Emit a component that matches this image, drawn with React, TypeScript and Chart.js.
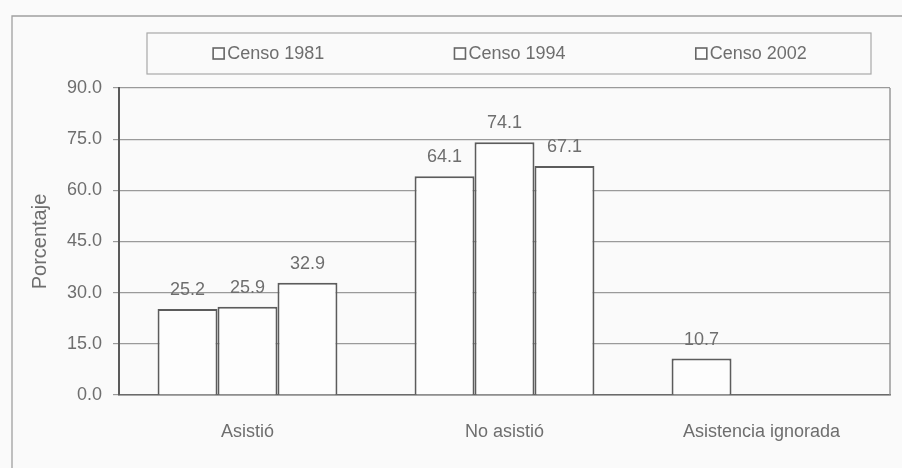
import React, { useEffect, useRef } from "react";
import { Chart, registerables } from "chart.js";

Chart.register(...registerables);

const categories = ["Asistió", "No asistió", "Asistencia ignorada"];
const seriesLabels = ["Censo 1981", "Censo 1994", "Censo 2002"];
const censo1981 = [25.2, 64.1, 10.7];
const censo1994: (number | null)[] = [25.9, 74.1, null];
const censo2002: (number | null)[] = [32.9, 67.1, null];
const yTicks = [0, 15, 30, 45, 60, 75, 90];

const TEXT = "#6e6e6e";
const FONT = "Arial, 'Liberation Sans', sans-serif";

const framePlugin = {
  id: "frame",
  beforeDraw(chart: any) {
    const ctx = chart.ctx;
    ctx.save();
    ctx.fillStyle = "#fafafa";
    ctx.fillRect(0, 0, chart.width, chart.height);
    ctx.strokeStyle = "#a0a0a0";
    ctx.lineWidth = 1.3;
    ctx.beginPath();
    ctx.moveTo(12, chart.height);
    ctx.lineTo(12, 16);
    ctx.lineTo(chart.width, 16);
    ctx.stroke();
    // legend box
    const lx = 147, ly = 33, lw = 724, lh = 41;
    ctx.strokeStyle = "#a8a8a8";
    ctx.lineWidth = 1.2;
    ctx.strokeRect(lx, ly, lw, lh);
    const datasets = chart.data.datasets;
    const slot = lw / datasets.length;
    ctx.font = `18px ${FONT}`;
    ctx.textBaseline = "middle";
    ctx.textAlign = "left";
    datasets.forEach((ds: any, i: number) => {
      const tw = ctx.measureText(ds.label).width;
      const itemW = 11 + 3 + tw;
      const cx = lx + slot * (i + 0.5) + 1;
      const x0 = cx - itemW / 2;
      const cy = ly + lh / 2;
      ctx.fillStyle = "#fdfdfd";
      ctx.fillRect(x0, cy - 5.5, 11, 11);
      ctx.strokeStyle = "#666";
      ctx.lineWidth = 1.6;
      ctx.strokeRect(x0, cy - 5.5, 11, 11);
      ctx.fillStyle = TEXT;
      ctx.fillText(ds.label, x0 + 14, cy + 1);
    });
    ctx.restore();
  },
  afterDatasetsDraw(chart: any) {
    const ctx = chart.ctx;
    const area = chart.chartArea;
    ctx.save();
    ctx.strokeStyle = "#8a8a8a";
    ctx.lineWidth = 1.3;
    ctx.beginPath();
    ctx.moveTo(area.right, area.top);
    ctx.lineTo(area.right, area.bottom);
    ctx.stroke();
    ctx.font = `18px ${FONT}`;
    ctx.fillStyle = TEXT;
    ctx.textAlign = "center";
    ctx.textBaseline = "alphabetic";
    chart.data.datasets.forEach((ds: any, di: number) => {
      const meta = chart.getDatasetMeta(di);
      meta.data.forEach((bar: any, i: number) => {
        const v = ds.data[i];
        if (v === null || v === undefined) return;
        ctx.fillText(v.toFixed(1), bar.x, bar.y - 14);
      });
    });
    ctx.restore();
  },
};

export default function App() {
  const ref = useRef<HTMLCanvasElement | null>(null);
  useEffect(() => {
    if (!ref.current) return;
    const barStyle = {
      backgroundColor: "#fdfdfd",
      borderColor: "#5c5c5c",
      borderWidth: 2,
      barPercentage: 1,
      categoryPercentage: 0.7,
    };
    const chart = new Chart(ref.current, {
      type: "bar",
      data: {
        labels: categories,
        datasets: [
          { label: seriesLabels[0], data: censo1981, ...barStyle },
          { label: seriesLabels[1], data: censo1994, ...barStyle },
          { label: seriesLabels[2], data: censo2002, ...barStyle },
        ] as any,
      },
      options: {
        animation: false,
        responsive: false,
        devicePixelRatio: 1,
        layout: { padding: { top: 88, right: 12, left: 0, bottom: 0 } },
        plugins: {
          legend: { display: false },
          tooltip: { enabled: false },
        },
        scales: {
          x: {
            grid: { display: false, drawTicks: false },
            border: { display: true, color: "#6a6a6a", width: 1.5 },
            ticks: {
              color: TEXT,
              font: { size: 18, family: FONT },
              padding: 26,
              maxRotation: 0,
            },
            afterFit: (s: any) => {
              s.height = 73;
            },
          },
          y: {
            min: 0,
            max: 90,
            afterBuildTicks: (s: any) => {
              s.ticks = yTicks.map((v) => ({ value: v }));
            },
            grid: { color: "#9a9a9a", lineWidth: 1.2, tickLength: 6, drawTicks: true },
            border: { display: true, color: "#5a5a5a", width: 2 },
            ticks: {
              color: TEXT,
              font: { size: 18, family: FONT },
              padding: 11,
              callback: (v: any) => Number(v).toFixed(1),
            },
            title: {
              display: true,
              text: "Porcentaje",
              color: TEXT,
              font: { size: 20, family: FONT },
              padding: { top: 28, bottom: 0 },
            },
            afterFit: (s: any) => {
              s.width = 119;
            },
          },
        },
      },
      plugins: [framePlugin],
    });
    return () => chart.destroy();
  }, []);
  return (
    <div style={{ position: "absolute", left: 0, top: 0, width: 902, height: 468 }}>
      <canvas ref={ref} width={902} height={468} style={{ display: "block" }} />
    </div>
  );
}
